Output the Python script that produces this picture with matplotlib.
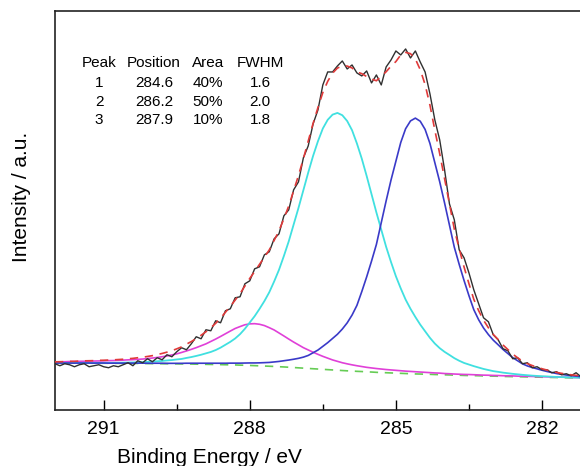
"""Recreate the C 1s XPS peak-fit chart."""

import matplotlib.pyplot as plt


# binding energy grid shared by every curve (0.1 eV steps, 292.0 -> 281.2)
energy_ev = [round(292.0 - 0.1 * i, 1) for i in range(109)]

# Shirley-type background
background = [
    46.7, 46.7, 46.7, 46.7, 46.6, 46.6, 46.6, 46.6, 46.5, 46.5,
    46.5, 46.5, 46.4, 46.4, 46.4, 46.4, 46.3, 46.3, 46.2, 46.2,
    46.1, 46.1, 46.0, 46.0, 45.9, 45.9, 45.8, 45.8, 45.7, 45.6,
    45.5, 45.4, 45.3, 45.2, 45.1, 45.0, 44.9, 44.8, 44.6, 44.5,
    44.3, 44.1, 43.9, 43.7, 43.5, 43.3, 43.0, 42.8, 42.5, 42.2,
    41.9, 41.6, 41.3, 41.0, 40.7, 40.4, 40.1, 39.8, 39.5, 39.2,
    38.9, 38.7, 38.4, 38.2, 37.9, 37.7, 37.4, 37.2, 37.0, 36.8,
    36.6, 36.4, 36.2, 36.0, 35.8, 35.7, 35.5, 35.4, 35.2, 35.1,
    34.9, 34.8, 34.6, 34.5, 34.3, 34.2, 34.1, 34.0, 33.8, 33.7,
    33.6, 33.5, 33.3, 33.2, 33.1, 33.0, 32.9, 32.8, 32.7, 32.6,
    32.5, 32.4, 32.3, 32.2, 32.1, 32.0, 31.9, 31.8, 31.7,
]

peak1 = [  # 284.6 eV, blue
    46.7, 46.7, 46.7, 46.7, 46.6, 46.7, 46.7, 46.7, 46.6, 46.7,
    46.7, 46.6, 46.6, 46.6, 46.6, 46.6, 46.6, 46.6, 46.6, 46.5,
    46.5, 46.5, 46.5, 46.4, 46.4, 46.4, 46.4, 46.5, 46.5, 46.5,
    46.5, 46.5, 46.5, 46.5, 46.5, 46.5, 46.6, 46.6, 46.6, 46.7,
    46.8, 46.8, 46.9, 47.1, 47.3, 47.8, 48.3, 49.0, 49.7, 50.5,
    51.4, 52.6, 54.3, 57.0, 59.7, 63.4, 67.1, 71.3, 75.5, 80.7,
    86.9, 94.7, 104.4, 118.2, 132.9, 148.7, 165.4, 187.2, 209.0, 229.8,
    248.6, 267.4, 281.2, 289.0, 291.8, 288.7, 280.5, 266.4, 247.2, 228.1,
    206.9, 184.8, 162.6, 145.5, 129.3, 114.2, 100.1, 90.0, 81.8, 75.2,
    69.6, 65.0, 60.3, 56.2, 52.1, 49.0, 45.9, 43.8, 42.2, 40.9,
    39.5, 38.3, 37.2, 36.2, 35.4, 34.7, 34.1, 33.6, 33.1,
]

peak2 = [  # 286.2 eV, cyan
    46.8, 46.8, 46.8, 46.8, 46.8, 46.8, 46.9, 46.8, 46.8, 46.9,
    46.9, 46.9, 46.9, 47.0, 47.1, 47.2, 47.3, 47.5, 47.6, 47.9,
    48.1, 48.5, 48.8, 49.3, 49.7, 50.3, 50.8, 51.8, 52.7, 53.8,
    55.0, 56.4, 57.8, 59.7, 62.1, 65.0, 67.9, 71.3, 75.6, 81.0,
    87.3, 93.6, 100.9, 108.7, 117.5, 128.3, 140.0, 153.8, 168.5, 185.2,
    201.9, 219.6, 237.3, 254.0, 268.7, 281.4, 290.1, 295.3, 297.0, 294.7,
    288.9, 279.7, 266.4, 251.2, 233.9, 215.7, 197.4, 180.2, 163.0, 147.8,
    133.6, 121.4, 110.2, 101.0, 92.8, 85.2, 78.5, 71.9, 66.2, 61.6,
    57.9, 54.8, 51.6, 49.0, 46.8, 45.2, 43.6, 42.2, 40.8, 39.7,
    38.6, 37.9, 37.1, 36.5, 35.9, 35.4, 34.9, 34.5, 34.1, 33.8,
    33.5, 33.3, 33.0, 32.8, 32.6, 32.5, 32.3, 32.2, 32.0,
]

peak3 = [  # 287.9 eV, magenta
    47.8, 47.9, 48.0, 48.2, 48.2, 48.4, 48.5, 48.6, 48.7, 48.8,
    48.9, 49.1, 49.2, 49.4, 49.6, 49.9, 50.1, 50.4, 50.7, 51.2,
    51.7, 52.3, 53.0, 53.8, 54.8, 55.9, 57.3, 58.8, 60.4, 62.1,
    64.0, 65.9, 68.3, 70.7, 73.3, 76.0, 78.7, 81.3, 83.2, 85.0,
    85.9, 86.1, 85.5, 84.2, 82.1, 79.8, 76.8, 73.8, 70.7, 67.7,
    64.9, 62.1, 59.8, 57.5, 55.4, 53.4, 51.6, 49.8, 48.4, 47.0,
    45.9, 44.9, 44.0, 43.2, 42.4, 41.8, 41.2, 40.7, 40.2, 39.8,
    39.4, 39.0, 38.6, 38.3, 38.0, 37.7, 37.4, 37.1, 36.8, 36.6,
    36.2, 36.0, 35.7, 35.5, 35.3, 35.2, 35.0, 34.8, 34.6, 34.5,
    34.3, 34.2, 34.0, 33.9, 33.8, 33.6, 33.5, 33.4, 33.3, 33.1,
    33.0, 32.9, 32.8, 32.7, 32.6, 32.5, 32.3, 32.2, 32.1,
]

envelope = [
    47.9, 48.0, 48.1, 48.4, 48.4, 48.7, 48.9, 49.0, 49.1, 49.4,
    49.5, 49.7, 49.9, 50.2, 50.5, 51.0, 51.4, 52.0, 52.5, 53.3,
    54.1, 55.2, 56.3, 57.6, 59.1, 60.9, 62.9, 65.6, 68.2, 71.2,
    74.5, 78.0, 82.0, 86.5, 91.7, 97.5, 103.4, 109.7, 116.2, 123.8,
    131.4, 138.3, 145.5, 152.6, 159.9, 169.4, 179.1, 191.1, 203.9, 219.0,
    234.4, 251.1, 268.8, 286.5, 302.4, 317.4, 328.6, 336.8, 341.9, 344.0,
    343.9, 342.0, 338.0, 336.3, 333.4, 330.9, 329.2, 333.7, 338.2, 343.8,
    348.4, 355.0, 357.6, 356.3, 351.0, 340.3, 325.4, 304.7, 279.8, 256.2,
    231.2, 206.1, 180.7, 161.1, 142.8, 126.2, 110.5, 99.1, 89.6, 82.0,
    75.3, 70.2, 64.8, 60.2, 55.6, 52.0, 48.5, 46.1, 44.2, 42.6,
    41.0, 39.7, 38.4, 37.3, 36.4, 35.7, 34.9, 34.4, 33.8,
]

# measured spectrum
raw_counts = [
    46, 44, 46, 45, 43, 45, 46, 43, 44, 45,
    43, 42, 44, 43, 45, 47, 44, 49, 47, 51,
    48, 52, 50, 55, 53, 58, 62, 60, 66, 73,
    71, 80, 79, 89, 87, 99, 101, 112, 113, 126,
    129, 141, 143, 155, 158, 171, 176, 194, 200, 220,
    228, 252, 264, 286, 300, 325, 338, 338, 344, 349,
    341, 345, 337, 334, 339, 327, 335, 325, 343, 350,
    359, 355, 361, 352, 359, 348, 338, 316, 290, 270,
    240, 206, 190, 160, 152, 137, 120, 106, 92, 88,
    75, 70, 61, 59, 51, 52, 46, 47, 42, 43,
    40, 40, 37, 38, 35, 36, 34, 37, 33,
]

table_header = ["Peak", "Position", "Area", "FWHM"]
table_rows = [
    ["1", "284.6", "40%", "1.6"],
    ["2", "286.2", "50%", "2.0"],
    ["3", "287.9", "10%", "1.8"],
]


def main() -> None:
    plt.rcParams["font.family"] = ["Liberation Sans", "DejaVu Sans"]

    fig = plt.figure(figsize=(5.8, 4.66), dpi=100)
    ax = fig.add_axes([0.0948, 0.1208, 0.9152, 0.8556])

    ax.plot(energy_ev, raw_counts, color="#303030", lw=1.0, zorder=3)
    ax.plot(energy_ev, background, color="#66cc55", lw=1.2,
            ls=(0, (5, 4)), zorder=2)
    ax.plot(energy_ev, peak3, color="#e040d8", lw=1.2, zorder=2)
    ax.plot(energy_ev, peak2, color="#40e0e0", lw=1.3, zorder=2)
    ax.plot(energy_ev, peak1, color="#3a3ac8", lw=1.2, zorder=2)
    ax.plot(energy_ev, envelope, color="#e03a3a", lw=1.2,
            ls=(0, (5, 4)), zorder=4)

    ax.set_xlim(292.0, 281.1)
    ax.set_ylim(0, 399)
    ax.set_xticks([291, 288, 285, 282])
    ax.set_xticks([289.5, 286.5, 283.5], minor=True)
    ax.set_yticks([])
    ax.tick_params(axis="x", which="major", direction="in", length=7,
                   width=1.0, labelsize=14, pad=8)
    ax.tick_params(axis="x", which="minor", direction="in", length=4,
                   width=1.0)
    for side in ax.spines.values():
        side.set_linewidth(1.2)
        side.set_color("#222222")

    ax.set_xlabel("Binding Energy / eV", fontsize=15)
    ax.xaxis.set_label_coords(0.291, -0.095)
    ax.set_ylabel("Intensity / a.u.", fontsize=15)
    ax.yaxis.set_label_coords(-0.046, 0.533)

    col_x = [99, 154, 208, 260]
    row_y = [63, 83, 102, 120]
    for text, x in zip(table_header, col_x):
        fig.text(x / 580, 1 - row_y[0] / 466, text, fontsize=11,
                 ha="center", va="center")
    for row, y in zip(table_rows, row_y[1:]):
        for text, x in zip(row, col_x):
            fig.text(x / 580, 1 - y / 466, text, fontsize=11,
                     ha="center", va="center")

    fig.savefig("out.png", dpi=100)
    plt.close(fig)


if __name__ == "__main__":
    main()
